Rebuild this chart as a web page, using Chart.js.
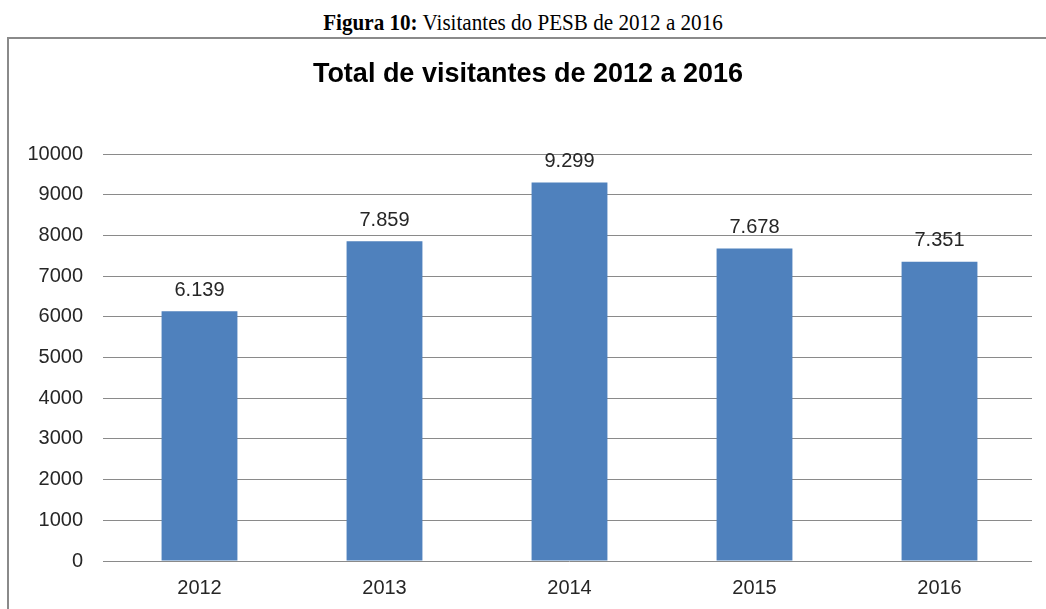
<!DOCTYPE html>
<html>
<head>
<meta charset="utf-8">
<script src="https://cdn.jsdelivr.net/npm/chart.js@4"></script>
<style>
  html, body { margin: 0; padding: 0; background: #fff; }
  body { width: 1046px; height: 609px; position: relative; overflow: hidden; }
  #caption {
    position: absolute; left: 0; top: 10px; width: 1046px;
    text-align: center; font-family: "Liberation Serif", "Times New Roman", serif;
    font-size: 24px; line-height: 1; color: #000;
    transform: scaleX(0.88); transform-origin: 523px 0;
  }
  #frame {
    position: absolute; left: 7px; top: 37px; width: 1100px; height: 700px;
    border-left: 2px solid #8a8a8a; border-top: 2px solid #8a8a8a;
  }
  #wrap { position: absolute; left: 0; top: 0; width: 1046px; height: 609px; }
</style>
</head>
<body>
<div id="caption"><b>Figura 10:</b> Visitantes do PESB de 2012 a 2016</div>
<div id="frame"></div>
<div id="wrap"><canvas id="myBarChartVisitantes"></canvas></div>
<script>
// data
const anos = ["2012", "2013", "2014", "2015", "2016"];
const visitantes = [6139, 7859, 9299, 7678, 7351];
const yMin = 0;
const yMax = 10000;
const yStep = 1000;

function formatPt(v){
    // 6139 -> "6.139"
    return String(v).replace(/\B(?=(\d{3})+(?!\d))/g, ".");
}

const valueLabels = {
    id: "valueLabels",
    afterDatasetsDraw: function (chart) {
        const ctx = chart.ctx;
        const meta = chart.getDatasetMeta(0);
        ctx.save();
        ctx.font = "20px 'Liberation Sans', Arial, sans-serif";
        ctx.fillStyle = "#262626";
        ctx.textAlign = "center";
        ctx.textBaseline = "middle";
        meta.data.forEach(function (bar, i) {
            ctx.fillText(formatPt(chart.data.datasets[0].data[i]), bar.x, bar.y - 21);
        });
        ctx.restore();
    }
};

function createBarChart(){
    var ctx = document.getElementById("myBarChartVisitantes");
    var myBarChartVisitantes = new Chart(ctx,
        {
            type: 'bar',
            data: {
                labels: anos,
                datasets: [{
                    label: "visitantes",
                    data: visitantes,
                    backgroundColor: "#4f81bd",
                    borderWidth: 0,
                    barPercentage: 1,
                    categoryPercentage: 0.41,
                }]
            },
            options: {
                responsive: true,
                maintainAspectRatio: false,
                animation: false,
                layout: {
                    padding: {top: 58, right: 14, bottom: 0, left: 24}
                },
                plugins: {
                    legend: {display: false},
                    tooltip: {enabled: false},
                    title: {
                        display: true,
                        text: "Total de visitantes de 2012 a 2016",
                        color: "#000",
                        font: {family: "'Liberation Sans', Arial, sans-serif", size: 27, weight: "bold", lineHeight: 1.2},
                        padding: {top: 0, bottom: 63.6}
                    }
                },
                scales: {
                    x: {
                        grid: {display: false},
                        border: {display: false},
                        ticks: {
                            color: "#262626",
                            padding: 7,
                            font: {family: "'Liberation Sans', Arial, sans-serif", size: 20}
                        },
                        afterFit: function (scale) { scale.height = 48; }
                    },
                    y: {
                        min: yMin,
                        max: yMax,
                        border: {display: false},
                        grid: {
                            color: "#8a8a8a",
                            lineWidth: 1,
                            drawTicks: true,
                            tickLength: 4,
                            tickColor: "#8a8a8a"
                        },
                        ticks: {
                            stepSize: yStep,
                            color: "#262626",
                            padding: 20,
                            font: {family: "'Liberation Sans', Arial, sans-serif", size: 20},
                            callback: function (value) { return String(value); }
                        },
                        afterFit: function (scale) { scale.width = 83; }
                    }
                }
            },
            plugins: [valueLabels]
        });
}

createBarChart();
</script>
</body>
</html>
